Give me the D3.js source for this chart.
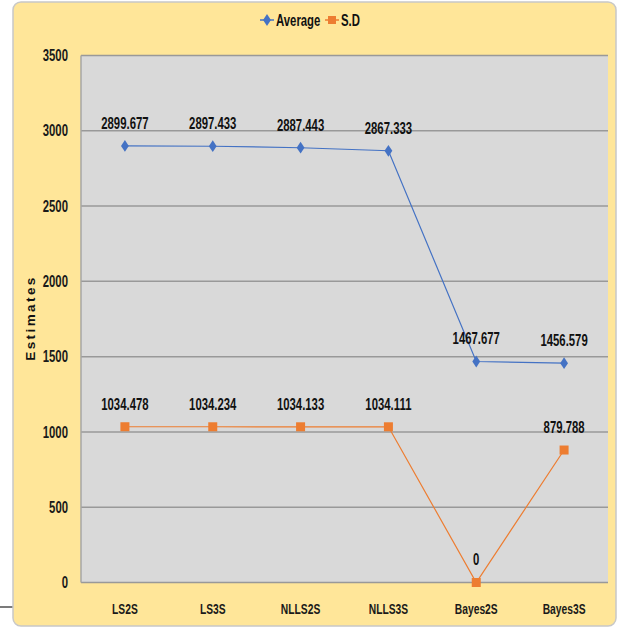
<!DOCTYPE html>
<html>
<head>
<meta charset="utf-8">
<script src="https://cdn.jsdelivr.net/npm/d3@7"></script>
<style>
  html, body { margin: 0; padding: 0; background: #ffffff; }
  svg { display: block; }
  .narrow { font-family: "Liberation Sans", Arial, sans-serif; font-weight: bold; }
</style>
</head>
<body>
<svg id="chart" width="627" height="628"></svg>
<script>
// Method labels along the x axis
const categories = ["LS2S", "LS3S", "NLLS2S", "NLLS3S", "Bayes2S", "Bayes3S"];
// Series values
const averageValues = [2899.677, 2897.433, 2887.443, 2867.333, 1467.677, 1456.579];
const sdValues = [1034.478, 1034.234, 1034.133, 1034.111, 0, 879.788];
const seriesNames = ["Average", "S.D"];
// Y axis ticks
const yTicks = [0, 500, 1000, 1500, 2000, 2500, 3000, 3500];

const svg = d3.select("#chart");
const plot = { left: 81, right: 608, top: 55.5, bottom: 582.5 };

const avgColor = "#4472c4";
const sdColor = "#ed7d31";
const K = 0.71; // horizontal squeeze for the narrow label face

// Squeeze text horizontally while keeping its anchor point in place
function condense(sel) {
  sel.each(function () {
    const t = d3.select(this);
    const x0 = +t.attr("x") || 0;
    t.attr("x", x0 / K).attr("transform", `scale(${K},1)`);
  });
}

// Stray rule at the left edge
svg.append("line")
  .attr("x1", 0).attr("x2", 13).attr("y1", 607).attr("y2", 607)
  .attr("stroke", "#222").attr("stroke-width", 1.2);

// Chart frame
svg.append("rect")
  .attr("x", 13).attr("y", 2).attr("width", 603).attr("height", 624)
  .attr("rx", 8).attr("ry", 8)
  .attr("fill", "#ffe699")
  .attr("stroke", "#c8c8c8").attr("stroke-width", 1.5);

const x = d3.scaleBand().domain(categories).range([plot.left, plot.right]);
const y = d3.scaleLinear().domain([0, 3500]).range([plot.bottom, plot.top]);
const cx = d => x(d) + x.bandwidth() / 2;

// Plot area
svg.append("rect")
  .attr("x", plot.left).attr("y", plot.top)
  .attr("width", plot.right - plot.left).attr("height", plot.bottom - plot.top)
  .attr("fill", "#d9d9d9");

// Gridlines
svg.append("g")
  .selectAll("line").data(yTicks).join("line")
  .attr("x1", plot.left).attr("x2", plot.right)
  .attr("y1", d => y(d)).attr("y2", d => y(d))
  .attr("stroke", "#999999").attr("stroke-width", 1.5);

// Left border of plot
svg.append("line")
  .attr("x1", plot.left).attr("x2", plot.left)
  .attr("y1", plot.top).attr("y2", plot.bottom)
  .attr("stroke", "#a6a6a6").attr("stroke-width", 1.5);

// Y axis
const yAxis = svg.append("g")
  .attr("transform", `translate(${plot.left},0)`)
  .call(d3.axisLeft(y).tickValues(yTicks).tickSize(0).tickPadding(13).tickFormat(d3.format("d")));
yAxis.select(".domain").remove();
yAxis.selectAll("text")
  .attr("class", "narrow")
  .attr("font-size", 16).attr("fill", "#1a1a1a")
  .call(condense);

// X axis
const xAxis = svg.append("g")
  .attr("transform", `translate(0,${plot.bottom})`)
  .call(d3.axisBottom(x).tickSize(0).tickPadding(21));
xAxis.select(".domain").remove();
xAxis.selectAll("text")
  .attr("class", "narrow")
  .attr("font-size", 14.5).attr("fill", "#1a1a1a")
  .call(condense);

// Y axis title
svg.append("text")
  .attr("transform", "translate(35,318) rotate(-90)")
  .attr("text-anchor", "middle")
  .attr("font-family", "Liberation Sans, Arial, sans-serif")
  .attr("font-weight", "bold").attr("font-size", 13.5)
  .attr("letter-spacing", 2.4)
  .attr("fill", "#111")
  .text("Estimates");

const line = d3.line().x((d, i) => cx(categories[i])).y(d => y(d));

// Average series
svg.append("path").datum(averageValues)
  .attr("d", line).attr("fill", "none")
  .attr("stroke", avgColor).attr("stroke-width", 1.2);
const diamond = d3.symbol().type(d3.symbolDiamond).size(40);
svg.append("g").selectAll("path").data(averageValues).join("path")
  .attr("transform", (d, i) => `translate(${cx(categories[i])},${y(d)}) scale(1.15,1)`)
  .attr("d", diamond).attr("fill", avgColor);

// S.D series
svg.append("path").datum(sdValues)
  .attr("d", line).attr("fill", "none")
  .attr("stroke", sdColor).attr("stroke-width", 1.2);
svg.append("g").selectAll("rect").data(sdValues).join("rect")
  .attr("x", (d, i) => cx(categories[i]) - 4.5)
  .attr("y", d => y(d) - 4.5)
  .attr("width", 9).attr("height", 9)
  .attr("fill", sdColor);

// Data labels
const fmt = v => v === 0 ? "0" : d3.format(".3f")(v);
[averageValues, sdValues].forEach(vals => {
  svg.append("g").selectAll("text").data(vals).join("text")
    .attr("class", "narrow")
    .attr("x", (d, i) => cx(categories[i]))
    .attr("y", d => y(d) - 17)
    .attr("text-anchor", "middle").attr("font-size", 16).attr("fill", "#111")
    .text(fmt)
    .call(condense);
});

// Legend
const legend = svg.append("g").attr("transform", "translate(0,20)");
const legendItems = [
  { name: seriesNames[0], color: avgColor, x0: 260, marker: "diamond" },
  { name: seriesNames[1], color: sdColor, x0: 325, marker: "square" }
];
legendItems.forEach(it => {
  legend.append("line")
    .attr("x1", it.x0).attr("x2", it.x0 + 14).attr("y1", 0).attr("y2", 0)
    .attr("stroke", it.color).attr("stroke-width", 1.5);
  if (it.marker === "diamond") {
    legend.append("path")
      .attr("transform", `translate(${it.x0 + 7},0) scale(1.15,1)`)
      .attr("d", diamond).attr("fill", it.color);
  } else {
    legend.append("rect")
      .attr("x", it.x0 + 3).attr("y", -4).attr("width", 8).attr("height", 8)
      .attr("fill", it.color);
  }
  legend.append("text")
    .attr("class", "narrow")
    .attr("x", it.x0 + 16).attr("y", 6)
    .attr("font-size", 16).attr("fill", "#111")
    .text(it.name)
    .call(condense);
});
</script>
</body>
</html>
